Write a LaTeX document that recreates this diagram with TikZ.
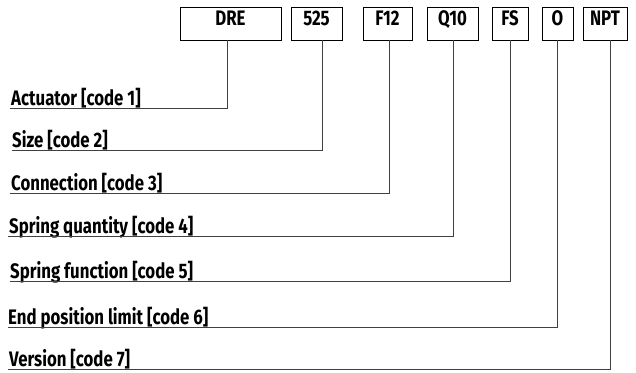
\documentclass[tikz,border=0pt]{standalone}
\usepackage{fontspec}
\setmainfont{Fira Sans}[BoldFont={Fira Sans Bold},BoldFeatures={FakeStretch=0.8}]
\begin{document}
\begin{tikzpicture}[x=1pt, y=1pt, font=\bfseries\fontsize{21}{23}\selectfont,
  codebox/.style={draw, line width=0.9pt, inner sep=0pt, text height=18.7pt, text depth=14.3pt},
  lbl/.style={anchor=base west, inner sep=0pt},
  link/.style={draw, line width=0.8pt, black!75}]
  \useasboundingbox (0,0) rectangle (636,372);
  % code boxes
  \node[codebox, minimum width=101pt] (dre) at (230.5,348.5) {DRE};
  \node[codebox, minimum width=51pt] (size) at (316.5,348.5) {525};
  \node[codebox, minimum width=49pt] (conn) at (387.5,348.5) {F12};
  \node[codebox, minimum width=51pt] (qty) at (452.5,348.5) {Q10};
  \node[codebox, minimum width=36pt] (func) at (510,348.5) {FS};
  \node[codebox, minimum width=31pt] (limit) at (557.5,348.5) {O};
  \node[codebox, minimum width=44pt] (ver) at (605,348.5) {NPT};
  % labels
  \node[lbl] (t1) at (11,266.5) {Actuator [code 1]};
  \node[lbl] (t2) at (12,224.5) {Size [code 2]};
  \node[lbl] (t3) at (11,181.5) {Connection [code 3]};
  \node[lbl] (t4) at (9,138.5) {Spring quantity [code 4]};
  \node[lbl] (t5) at (10,93.5) {Spring function [code 5]};
  \node[lbl] (t6) at (8,47.5) {End position limit [code 6]};
  \node[lbl] (t7) at (9,5.5) {Version [code 7]};
  \coordinate (a1) at (10,264);
  \coordinate (a2) at (12,222);
  \coordinate (a3) at (10,179);
  \coordinate (a4) at (8,136);
  \coordinate (a5) at (10,91);
  \coordinate (a6) at (8,45);
  \coordinate (a7) at (8,3);
  % leader lines
  \draw[link] ([xshift=-3.5pt]dre.south) |- (a1);
  \draw[link] ([xshift=5.5pt]size.south) |- (a2);
  \draw[link] ([xshift=1.5pt]conn.south) |- (a3);
  \draw[link] ([xshift=0.5pt]qty.south) |- (a4);
  \draw[link] (func.south) |- (a5);
  \draw[link] ([xshift=-0.5pt]limit.south) |- (a6);
  \draw[link] ([xshift=5pt]ver.south) |- (a7);
\end{tikzpicture}
\end{document}
